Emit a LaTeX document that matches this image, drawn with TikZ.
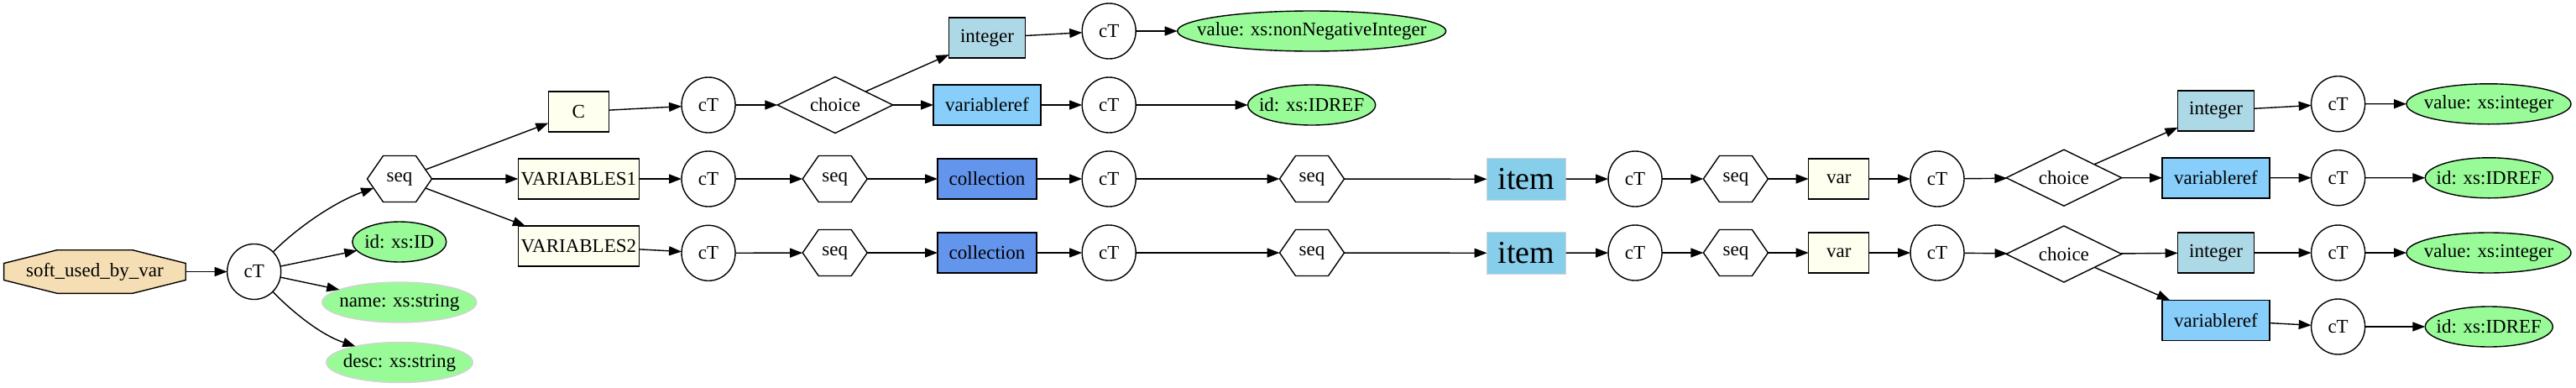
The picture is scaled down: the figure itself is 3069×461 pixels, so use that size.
\documentclass[tikz,border=0pt]{standalone}
\usepackage{fontspec}
\setmainfont{Liberation Serif}
\usetikzlibrary{shapes.geometric,arrows.meta,calc}
\definecolor{wheatc}{HTML}{F5DEB3}
\definecolor{ivoryc}{HTML}{FFFFF0}
\definecolor{lblue}{HTML}{ADD8E6}
\definecolor{lsky}{HTML}{87CEFA}
\definecolor{cblue}{HTML}{6495ED}
\definecolor{skyc}{HTML}{87CEEB}
\definecolor{pgreen}{HTML}{98FB98}
\definecolor{lgray}{HTML}{D3D3D3}
\newcommand{\lbl}[1]{\makebox[0pt]{#1}}
\begin{document}
\begin{tikzpicture}[x=1pt,y=-1pt,line width=1.4pt,
  every node/.style={inner sep=0pt,outer sep=0pt,font=\fontsize{23}{27}\selectfont},
  ct/.style={ellipse,draw,minimum width=64pt,minimum height=66pt},
  box/.style={rectangle,draw,minimum height=48pt},
  ivbox/.style={box,fill=ivoryc},
  intbox/.style={box,fill=lblue,minimum width=91pt},
  vrbox/.style={box,fill=lsky,minimum width=128pt},
  colbox/.style={box,fill=cblue,minimum width=118pt},
  itembox/.style={rectangle,draw=lgray,fill=skyc,minimum width=94pt,minimum height=50pt,font=\fontsize{38}{44}\selectfont},
  hexa/.style={rectangle,minimum width=77pt,minimum height=55pt},
  dia/.style={diamond,draw,aspect=2,minimum width=137.5pt,minimum height=67pt},
  attr/.style={ellipse,draw,fill=pgreen,minimum height=48pt},
  attrg/.style={ellipse,draw=lgray,fill=pgreen,minimum height=48pt},
  arr/.style={-{Triangle[length=15pt,width=11pt]}},
]
\useasboundingbox (0,0) rectangle (3069,461);

% root octagon
\coordinate (rootc) at (112.9,323.5);
\draw[fill=wheatc] ([shift={(-108.3,-10)}]rootc) -- ([shift={(-45,-25.8)}]rootc) -- ([shift={(45,-25.8)}]rootc) -- ([shift={(108.3,-10)}]rootc) -- ([shift={(108.3,10)}]rootc) -- ([shift={(45,25.8)}]rootc) -- ([shift={(-45,25.8)}]rootc) -- ([shift={(-108.3,10)}]rootc) -- cycle;
\node[rectangle,minimum width=216.6pt,minimum height=51.6pt] (root) at (rootc) {\lbl{soft\_used\_by\_var}};

% column 1
\node[ct] (cT1) at (302.7,323.5) {\lbl{cT}};
\node[hexa] (s1) at (476,213) {\lbl{seq}};
\node[attr,minimum width=112pt] (idID) at (475.8,288) {\lbl{id: xs:ID}};
\node[attrg,minimum width=184pt] (name) at (475.8,360) {\lbl{name: xs:string}};
\node[attrg,minimum width=174.5pt] (desc) at (476,431.5) {\lbl{desc: xs:string}};

% column 2
\node[ivbox,minimum width=72pt] (C) at (689.3,133) {\lbl{C}};
\node[ivbox,minimum width=144pt] (V1) at (689.3,213) {\lbl{VARIABLES1}};
\node[ivbox,minimum width=144pt] (V2) at (689.3,293) {\lbl{VARIABLES2}};
\node[ct] (cT2) at (844,125) {\lbl{cT}};
\node[ct] (cT3) at (844,213) {\lbl{cT}};
\node[ct] (cT4) at (844,301.3) {\lbl{cT}};
\node[dia] (ch1) at (995,125) {\lbl{choice}};
\node[hexa] (s2) at (994.7,213) {\lbl{seq}};
\node[hexa] (s3) at (994.7,301) {\lbl{seq}};
\node[intbox] (int1) at (1176,45) {\lbl{integer}};
\node[vrbox] (vr1) at (1176,125) {\lbl{variableref}};
\node[colbox] (col1) at (1176,213) {\lbl{collection}};
\node[colbox] (col2) at (1176,301) {\lbl{collection}};
\node[ct] (cT5) at (1321.2,37) {\lbl{cT}};
\node[ct] (cT6) at (1321.2,125) {\lbl{cT}};
\node[ct] (cT7) at (1321.2,213) {\lbl{cT}};
\node[ct] (cT8) at (1321.2,301) {\lbl{cT}};
\node[attr,minimum width=320pt] (nonneg) at (1562.7,37) {\lbl{value: xs:nonNegativeInteger}};
\node[attr,minimum width=152pt] (idref1) at (1562.7,125) {\lbl{id: xs:IDREF}};
\node[hexa] (s4) at (1563,213) {\lbl{seq}};
\node[hexa] (s5) at (1563,301) {\lbl{seq}};

% right part
\node[itembox] (item1) at (1818.5,213.3) {\lbl{item}};
\node[itembox] (item2) at (1818.5,301.3) {\lbl{item}};
\node[ct] (cT9) at (1948,213) {\lbl{cT}};
\node[ct] (cT11) at (1948,301) {\lbl{cT}};
\node[hexa] (s6) at (2067.9,213) {\lbl{seq}};
\node[hexa] (s7) at (2067.9,301) {\lbl{seq}};
\node[ivbox,minimum width=72pt] (var1) at (2190.7,213) {\lbl{var}};
\node[ivbox,minimum width=72pt] (var2) at (2190.7,301) {\lbl{var}};
\node[ct] (cT10) at (2308,213) {\lbl{cT}};
\node[ct] (cT12) at (2308,301) {\lbl{cT}};
\node[dia] (ch2) at (2458.9,211.7) {\lbl{choice}};
\node[dia] (ch3) at (2458.9,302.5) {\lbl{choice}};
\node[intbox] (int2) at (2640,131.8) {\lbl{integer}};
\node[vrbox] (vr2) at (2640,211.8) {\lbl{variableref}};
\node[intbox] (int3) at (2640,301) {\lbl{integer}};
\node[vrbox] (vr3) at (2640,381.2) {\lbl{variableref}};
\node[ct] (cT13) at (2785.6,123.7) {\lbl{cT}};
\node[ct] (cT14) at (2785.6,211.7) {\lbl{cT}};
\node[ct] (cT15) at (2785.6,301) {\lbl{cT}};
\node[ct] (cT16) at (2785.6,389) {\lbl{cT}};
\node[attr,minimum width=196pt] (val1) at (2965,123.8) {\lbl{value: xs:integer}};
\node[attr,minimum width=152pt] (idref2) at (2965.3,211.8) {\lbl{id: xs:IDREF}};
\node[attr,minimum width=196pt] (val2) at (2965,301) {\lbl{value: xs:integer}};
\node[attr,minimum width=152pt] (idref3) at (2965.3,389) {\lbl{id: xs:IDREF}};

% hexagon outlines
\foreach \n in {s1,s2,s3,s4,s5,s6,s7}{
  \draw (\n.west) -- ($(\n.north west)!0.247!(\n.north east)$) coordinate (\n-tl)
    -- ($(\n.north west)!0.753!(\n.north east)$) coordinate (\n-tr)
    -- (\n.east) -- ($(\n.south west)!0.753!(\n.south east)$) coordinate (\n-br)
    -- ($(\n.south west)!0.247!(\n.south east)$) coordinate (\n-bl) -- cycle;
}

% edges
\draw[arr] (root) -- (cT1);
\draw[arr] (cT1.46) .. controls (355,270) and (400,240) .. ($(s1.west)!0.4!(s1-bl)$);
\draw[arr] (cT1) -- (idID);
\draw[arr] (cT1) -- (name);
\draw[arr] (cT1.-47) .. controls (345,368) and (380,398) .. (desc.160);
\draw[arr] ($(s1.east)!0.4!(s1-tr)$) -- (C);
\draw[arr] (s1) -- (V1);
\draw[arr] ($(s1.east)!0.4!(s1-br)$) -- (V2);
\draw[arr] (C) -- (cT2);
\draw[arr] (cT2) -- (ch1);
\draw[arr] (ch1) -- (int1);
\draw[arr] (ch1) -- (vr1);
\draw[arr] (int1) -- (cT5);
\draw[arr] (cT5) -- (nonneg);
\draw[arr] (vr1) -- (cT6);
\draw[arr] (cT6) -- (idref1);
\draw[arr] (V1) -- (cT3);
\draw[arr] (cT3) -- (s2);
\draw[arr] (s2) -- (col1);
\draw[arr] (col1) -- (cT7);
\draw[arr] (cT7) -- (s4);
\draw[arr] (s4) -- (item1);
\draw[arr] (item1) -- (cT9);
\draw[arr] (cT9) -- (s6);
\draw[arr] (s6) -- (var1);
\draw[arr] (var1) -- (cT10);
\draw[arr] (cT10) -- (ch2);
\draw[arr] (ch2) -- (int2);
\draw[arr] (ch2) -- (vr2);
\draw[arr] (int2) -- (cT13);
\draw[arr] (cT13) -- (val1);
\draw[arr] (vr2) -- (cT14);
\draw[arr] (cT14) -- (idref2);
\draw[arr] (V2) -- (cT4);
\draw[arr] (cT4) -- (s3);
\draw[arr] (s3) -- (col2);
\draw[arr] (col2) -- (cT8);
\draw[arr] (cT8) -- (s5);
\draw[arr] (s5) -- (item2);
\draw[arr] (item2) -- (cT11);
\draw[arr] (cT11) -- (s7);
\draw[arr] (s7) -- (var2);
\draw[arr] (var2) -- (cT12);
\draw[arr] (cT12) -- (ch3);
\draw[arr] (ch3) -- (int3);
\draw[arr] (ch3) -- (vr3);
\draw[arr] (int3) -- (cT15);
\draw[arr] (cT15) -- (val2);
\draw[arr] (vr3) -- (cT16);
\draw[arr] (cT16) -- (idref3);
\end{tikzpicture}
\end{document}
